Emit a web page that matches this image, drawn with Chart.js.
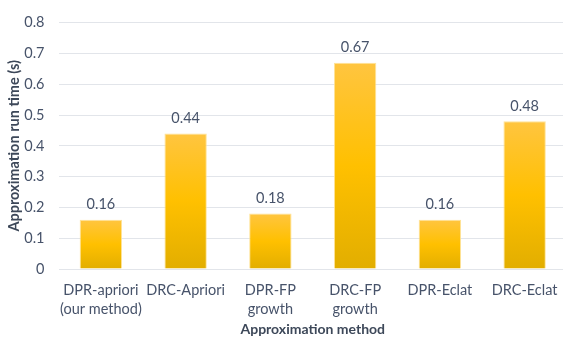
<!DOCTYPE html>
<html>
<head>
<meta charset="utf-8">
<script src="https://cdn.jsdelivr.net/npm/chart.js@4"></script>
<style>
  html, body { margin: 0; padding: 0; overflow: hidden; background: #fff; }
  #wrap { width: 572px; height: 339px; }
</style>
</head>
<body>
<div id="wrap"><canvas id="chart" width="572" height="339"></canvas></div>
<script>
const categories = [
    ['DPR-apriori', '(our method)'],
    'DRC-Apriori',
    ['DPR-FP', 'growth'],
    ['DRC-FP', 'growth'],
    'DPR-Eclat',
    'DRC-Eclat'
];
const runTimes = [0.16, 0.44, 0.18, 0.67, 0.16, 0.48];
const yTicks = [0, 0.1, 0.2, 0.3, 0.4, 0.5, 0.6, 0.7, 0.8];

const textColor = '#47536a';
const fontFamily = 'Lato, "Open Sans", sans-serif';

// each bar gets its own top-to-bottom gold gradient
function barGradient(ctx) {
    const chart = ctx.chart;
    if (!chart.chartArea || ctx.type !== 'data') return '#FFC000';
    const y = chart.scales.y;
    const top = y.getPixelForValue(ctx.raw);
    const bottom = y.getPixelForValue(0);
    const g = chart.ctx.createLinearGradient(0, top, 0, bottom);
    g.addColorStop(0, '#FFC540');
    g.addColorStop(0.5, '#FFC000');
    g.addColorStop(1, '#E2AE00');
    return g;
}

// value labels above the bars
const valueLabels = {
    id: 'valueLabels',
    afterDatasetsDraw(chart) {
        const ctx = chart.ctx;
        const meta = chart.getDatasetMeta(0);
        ctx.save();
        ctx.font = '14.5px ' + fontFamily;
        ctx.fillStyle = textColor;
        ctx.textAlign = 'center';
        ctx.textBaseline = 'bottom';
        meta.data.forEach((bar, i) => {
            ctx.fillText(runTimes[i].toFixed(2), bar.x, bar.y - 8);
        });
        ctx.restore();
    }
};

new Chart(document.getElementById('chart'), {
    type: 'bar',
    data: {
        labels: categories,
        datasets: [{
            data: runTimes,
            backgroundColor: barGradient,
            borderColor: 'rgba(255, 224, 140, 0.9)',
            borderWidth: 1,
            barPercentage: 1,
            categoryPercentage: 0.5
        }]
    },
    options: {
        responsive: false,
        animation: false,
        layout: {padding: {top: 15, right: 5, left: 0, bottom: 0}},
        plugins: {
            legend: {display: false},
            tooltip: {enabled: false}
        },
        scales: {
            x: {
                grid: {display: false, drawTicks: false},
                border: {display: false},
                ticks: {
                    color: textColor,
                    font: {family: fontFamily, size: 14.5, lineHeight: 1.3},
                    padding: 12,
                    maxRotation: 0,
                    autoSkip: false
                },
                title: {
                    display: true,
                    text: 'Approximation method',
                    color: '#3d4859',
                    font: {family: fontFamily, size: 14, weight: 'bold'},
                    padding: {top: 0, bottom: 1}
                },
                afterFit(scale) { scale.height = 70; }
            },
            y: {
                min: 0,
                max: 0.8,
                afterBuildTicks(scale) {
                    scale.ticks = yTicks.map(v => ({value: v}));
                },
                grid: {color: '#e2e5ea', lineWidth: 1, drawTicks: false},
                border: {display: false},
                ticks: {
                    color: textColor,
                    font: {family: fontFamily, size: 14.5},
                    padding: 14,
                    callback: v => v === 0 ? '0' : v.toFixed(1)
                },
                title: {
                    display: true,
                    text: 'Approximation run time (s)',
                    color: '#3d4859',
                    font: {family: fontFamily, size: 14.5, weight: 'bold'},
                    padding: {top: 6, bottom: 0}
                },
                afterFit(scale) { scale.width = 58.5; }
            }
        }
    },
    plugins: [valueLabels]
});
</script>
</body>
</html>
